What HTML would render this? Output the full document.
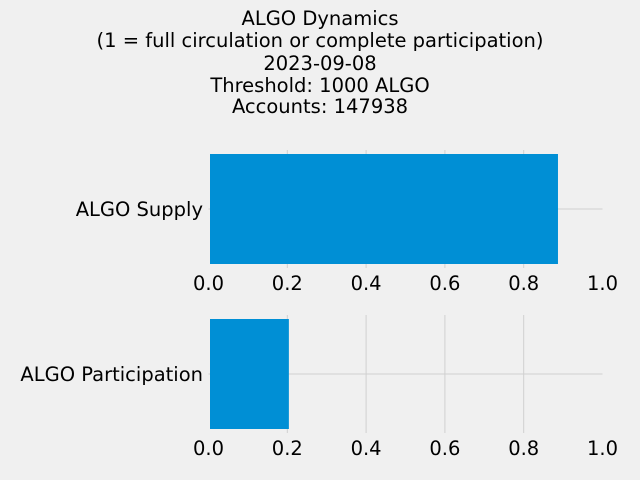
<!DOCTYPE html>
<html><head><meta charset="utf-8"><style>
body{margin:0;background:#f0f0f0}
svg{display:block;font-family:"DejaVu Sans","Liberation Sans",sans-serif}
</style></head><body>
<svg id="chart" width="640" height="480" viewBox="0 0 640 480">
<rect width="640" height="480" fill="#f0f0f0"/>
<g font-size="19.5" text-anchor="middle" fill="#000">
<text x="320" y="25">ALGO Dynamics</text>
<text x="320" y="47">(1 = full circulation or complete participation)</text>
<text x="320" y="70">2023-09-08</text>
<text x="320" y="92">Threshold: 1000 ALGO</text>
<text x="320" y="113">Accounts: 147938</text>
</g>
<g id="plots"></g>
</svg>
<script>
const categories = ["ALGO Supply", "ALGO Participation"];
const values = [0.887, 0.204];
const ticks = [0, 0.2, 0.4, 0.6, 0.8, 1.0];
const tickLabels = ["0.0", "0.2", "0.4", "0.6", "0.8", "1.0"];

const NS = "http://www.w3.org/2000/svg";
const g = document.getElementById("plots");
const x0 = 208.5, xw = 394;
const xs = v => x0 + v * xw;
const panelTops = [150, 315];
const panelH = 118;
function mk(tag, attrs, parent) {
  const e = document.createElementNS(NS, tag);
  for (const k in attrs) e.setAttribute(k, attrs[k]);
  parent.appendChild(e);
  return e;
}
categories.forEach((cat, i) => {
  const top = panelTops[i];
  const cy = top + panelH / 2;
  const ys = v => cy - v * 137.5;
  const p = mk("g", {}, g);
  
  
  ticks.forEach(t => {
    if (t <= 0 || t >= 1) return;
    const l = mk("line", {x1: xs(t), x2: xs(t), y1: top, y2: top + panelH, stroke: "#d0d0d0", "stroke-width": 1}, p);
    
    
  });
  const hl = mk("line", {x1: x0, x2: x0 + xw, y1: cy, y2: cy, stroke: "#d0d0d0", "stroke-width": 1}, p);
  
  
  const b = mk("rect", {x: xs(0) + 1.5, y: ys(0.4), width: xs(values[i]) - xs(0) - 1.5, height: ys(-0.4) - ys(0.4), fill: "#008fd5"}, p);
  
  
  ticks.forEach((t, j) => {
    const tx = mk("text", {x: xs(t), y: top + panelH + 22, "font-size": 19.5, "text-anchor": "middle"}, p);
    tx.textContent = tickLabels[j];
    
    
  });
  const yl = mk("text", {x: 203, y: cy + 7, "font-size": 19.5, "text-anchor": "end"}, p);
  yl.textContent = cat;
  
  
});
</script>
</body></html>
